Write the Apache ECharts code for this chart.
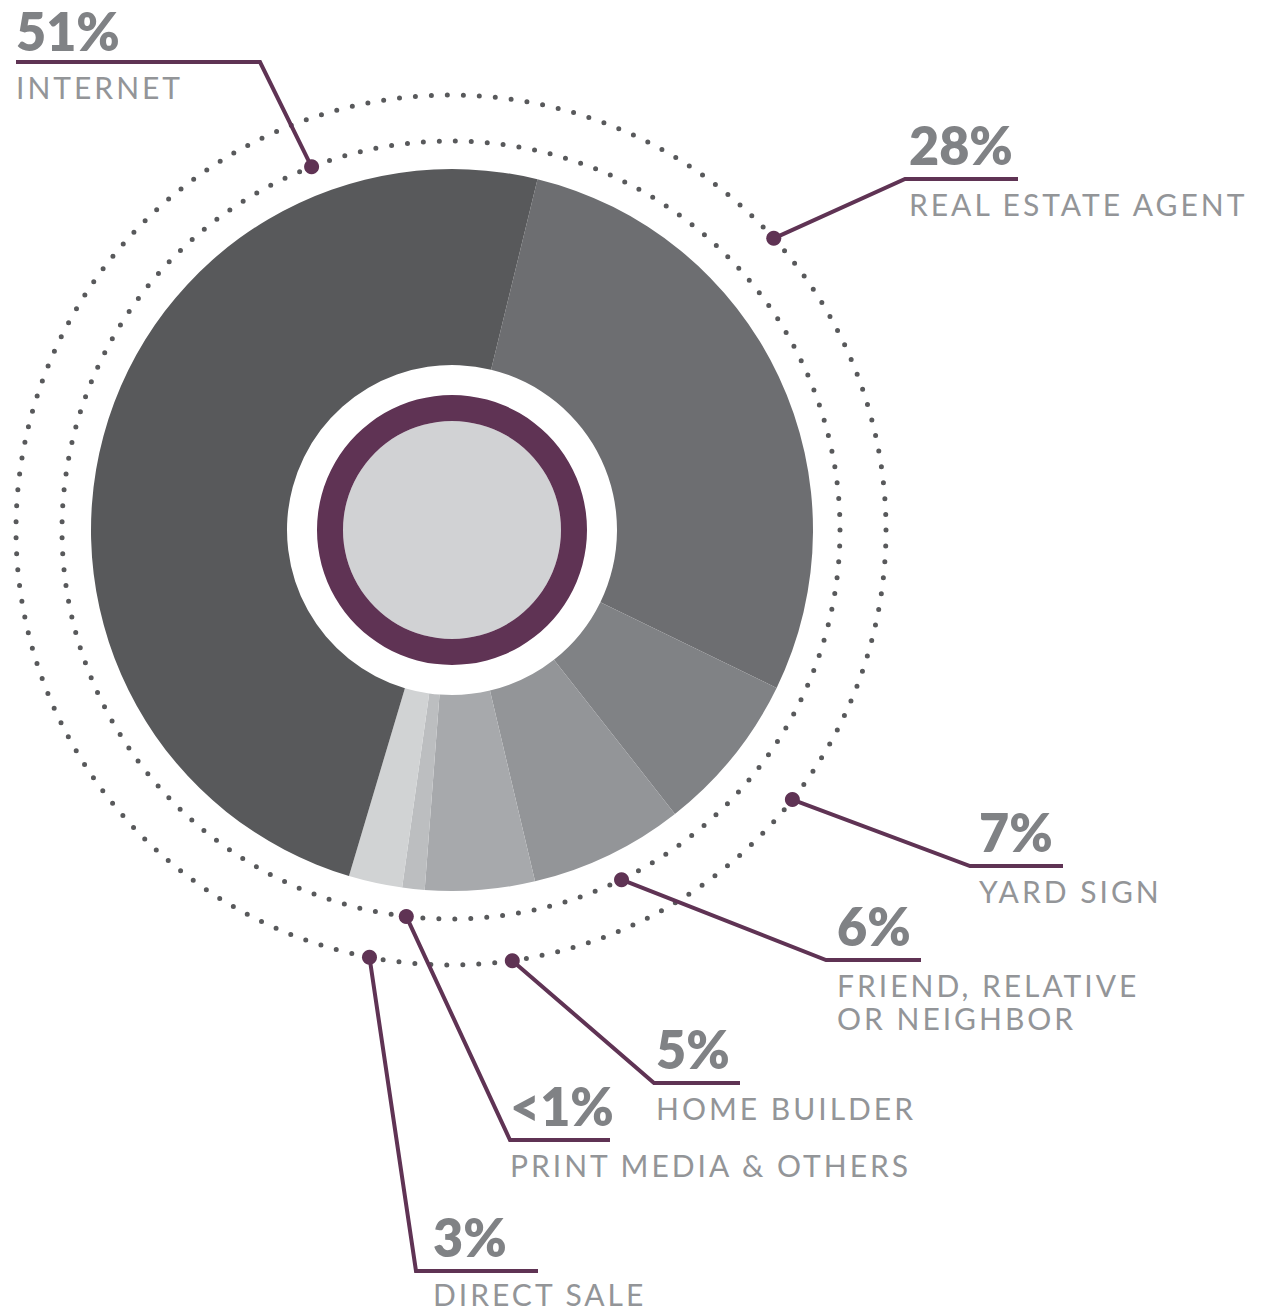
<!DOCTYPE html>
<html>
<head>
<meta charset="utf-8">
<script src="https://cdn.jsdelivr.net/npm/echarts@6/dist/echarts.min.js"></script>
<style>
  html, body { margin: 0; padding: 0; background: #ffffff; }
  #main { width: 1275px; height: 1311px; }
  #main text[fill="#939598"] { letter-spacing: 3px; }
</style>
</head>
<body>
<div id="main"></div>
<script>
// ---- data (clockwise order, starting from the top boundary) ----
const categories = ['REAL ESTATE AGENT', 'YARD SIGN', 'FRIEND, RELATIVE\nOR NEIGHBOR', 'HOME BUILDER', 'PRINT MEDIA & OTHERS', 'DIRECT SALE', 'INTERNET'];
const shares = [28.4, 7.2, 6.9, 4.9, 1.0, 2.4, 49.2];
const percentLabels = ['28%', '7%', '6%', '5%', '<1%', '3%', '51%'];

// ---- styles ----
const sliceColors = ['#6d6e71', '#808285', '#939598', '#a7a9ac', '#bcbec0', '#d1d3d4', '#58595b'];
const PURPLE = '#5f3354';
const PCT_COLOR = '#808285';
const LABEL_COLOR = '#939598';
const DOT_COLOR = '#58595b';

// ---- layout ----
const CX = 452, CY = 530;
const RING_CX = 451, RING_CY = 530;
const OUTER_RING = 435, INNER_RING = 389;
// callout layout per category (same order as categories)
const callouts = [
  { ring: OUTER_RING, angle: 47.9,  elbow: [905, 179],  endX: 1018, textX: 909, pctDy: 0, labelDy: 0 },
  { ring: OUTER_RING, angle: 128.3, elbow: [970, 866],  endX: 1063, textX: 979, pctDy: 0, labelDy: 0 },
  { ring: INNER_RING, angle: 154.0, elbow: [826, 960],  endX: 921,  textX: 837, pctDy: 0, labelDy: 0 },
  { ring: OUTER_RING, angle: 171.9, elbow: [654, 1083], endX: 740,  textX: 656, pctDy: 0, labelDy: 0 },
  { ring: INNER_RING, angle: 186.6, elbow: [510, 1140], endX: 610,  textX: 510, pctDy: 0, labelDy: 0 },
  { ring: OUTER_RING, angle: 190.8, elbow: [416, 1271], endX: 538,  textX: 433, pctDy: 0, labelDy: -2 },
  { ring: INNER_RING, angle: 339.0, elbow: [260, 62],   endX: 16,   textX: 16,  pctDy: 3, labelDy: 0 }
];

const chart = echarts.init(document.getElementById('main'), null, { renderer: 'svg' });

const graphics = [];
// centre decoration
graphics.push({ type: 'circle', z: 5, silent: true, shape: { cx: CX, cy: CY, r: 109 }, style: { fill: '#d1d2d4' } });
graphics.push({ type: 'ring', z: 5, silent: true, shape: { cx: CX, cy: CY, r: 135, r0: 109 }, style: { fill: PURPLE } });
// dotted rings
[OUTER_RING, INNER_RING].forEach(function (r) {
  const circ = 2 * Math.PI * r;
  const gap = circ / Math.round(circ / 16);
  graphics.push({
    type: 'circle', z: 5, silent: true,
    shape: { cx: RING_CX, cy: RING_CY, r: r },
    style: { fill: 'none', stroke: DOT_COLOR, lineWidth: 5, lineDash: [0, gap], lineCap: 'round' }
  });
});
// callouts
callouts.forEach(function (c, i) {
  const a = c.angle * Math.PI / 180;
  const dx = RING_CX + c.ring * Math.sin(a);
  const dy = RING_CY - c.ring * Math.cos(a);
  graphics.push({
    type: 'polyline', z: 6, silent: true,
    shape: { points: [[dx, dy], c.elbow, [c.endX, c.elbow[1]]] },
    style: { stroke: PURPLE, lineWidth: 4, fill: 'none', lineJoin: 'miter' }
  });
  graphics.push({ type: 'circle', z: 7, silent: true, shape: { cx: dx, cy: dy, r: 7.5 }, style: { fill: PURPLE } });
  graphics.push({
    type: 'text', z: 7, silent: true,
    style: {
      text: percentLabels[i], x: c.textX, y: c.elbow[1] - 34 + c.pctDy,
      font: '800 52px Lato', fill: PCT_COLOR, textAlign: 'left', textVerticalAlign: 'middle',
      lineHeight: 42
    }
  });
  const multi = categories[i].indexOf('\n') >= 0;
  const lh = multi ? 33 : 29;
  graphics.push({
    type: 'text', z: 7, silent: true,
    style: {
      text: categories[i], x: c.textX, y: c.elbow[1] + 8 + (33 - lh) / 2 + c.labelDy,
      font: '400 30px Lato', fill: LABEL_COLOR, textAlign: 'left', textVerticalAlign: 'top',
      lineHeight: lh
    }
  });
});

chart.setOption({
  animation: false,
  backgroundColor: '#ffffff',
  series: [{
    type: 'pie',
    silent: true,
    center: [CX, CY],
    radius: [165, 361],
    startAngle: 90 - 13.7,
    clockwise: true,
    label: { show: false },
    labelLine: { show: false },
    itemStyle: { borderWidth: 0 },
    data: categories.map(function (name, i) {
      return { name: name, value: shares[i], itemStyle: { color: sliceColors[i] } };
    })
  }],
  graphic: { elements: graphics }
});
</script>
</body>
</html>
